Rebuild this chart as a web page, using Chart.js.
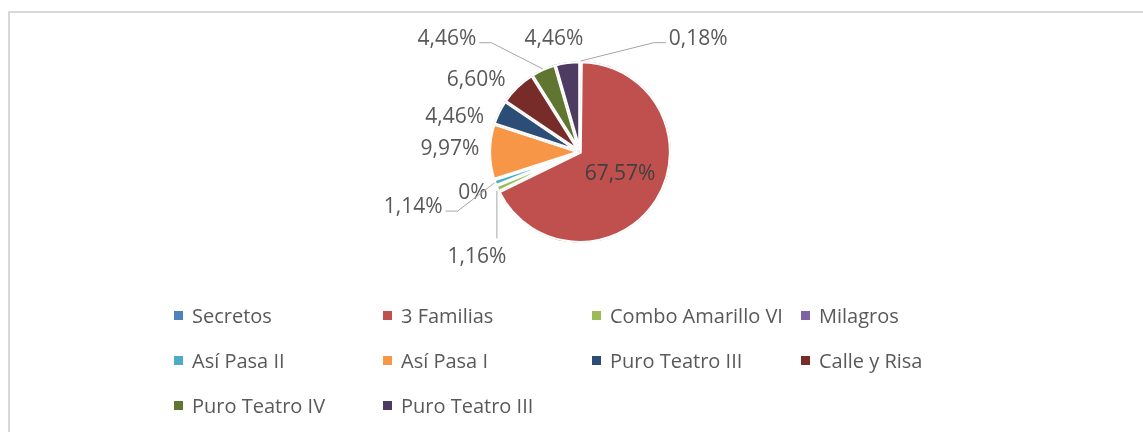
<!DOCTYPE html>
<html>
<head>
<meta charset="utf-8">
<script src="https://cdn.jsdelivr.net/npm/chart.js@4.4.1/dist/chart.umd.min.js"></script>
<style>
  html, body { margin: 0; padding: 0; background: #fff; }
  #wrap { position: relative; width: 1143px; height: 432px; overflow: hidden; font-family: "Open Sans", sans-serif; }
  #frame { position: absolute; left: 8px; top: 11px; width: 1300px; height: 600px; border: 2px solid #d9d9d9; box-sizing: border-box; }
  #chart { position: absolute; left: 0; top: 0; }
  #legend { position: absolute; left: 174px; top: 293px; display: grid; grid-template-columns: repeat(4, 209px); }
  .item { display: flex; align-items: center; height: 45px; font-size: 20px; color: #595959; white-space: nowrap; }
  .box { width: 9px; height: 9px; margin-right: 9px; flex: none; }
</style>
</head>
<body>
<div id="wrap">
  <div id="frame"></div>
  <canvas id="chart" width="1143" height="432"></canvas>
  <div id="legend"></div>
</div>
<script>
"use strict";

const LABELS = ["Secretos", "3 Familias", "Combo Amarillo VI", "Milagros", "Así Pasa II",
                "Así Pasa I", "Puro Teatro III", "Calle y Risa", "Puro Teatro IV", "Puro Teatro III"];
const VALUES = [0.18, 67.57, 1.16, 0, 1.14, 9.97, 4.46, 6.60, 4.46, 4.46];
const COLORS = ["#4F81BD", "#C0504D", "#9BBB59", "#8064A2", "#4BACC6",
                "#F79646", "#2C4D75", "#772C2A", "#5F7530", "#4D3B62"];

// label placement: [distance in radii, angle shift from slice middle (deg), mode]
const LABEL_PLACE = [
  [1.80, 45.9, "side"],
  [0.50, -4, "inside"],
  [1.62, -21.6, "top"],
  [1.26, 1, "out"],
  [1.93, 1.6, "side"],
  [1.43, 1.1, "out"],
  [1.43, -10.6, "out"],
  [1.39, -11.1, "out"],
  [1.92, -25.5, "side"],
  [1.275, -5, "out"],
];

function pct(v) {
  return v === 0 ? "0%" : v.toFixed(2).replace(".", ",") + "%";
}

const sliceLabels = {
  id: "sliceLabels",
  afterDatasetsDraw(chart) {
    const ctx = chart.ctx;
    const meta = chart.getDatasetMeta(0);
    ctx.save();
    ctx.font = "21px 'Open Sans'";
    ctx.textAlign = "center";
    ctx.textBaseline = "middle";
    meta.data.forEach((arc, i) => {
      const p = arc.getProps(["x", "y", "startAngle", "endAngle", "outerRadius"], true);
      const mid = (p.startAngle + p.endAngle) / 2;
      const [dist, shift, mode] = LABEL_PLACE[i];
      const a = mid + shift * Math.PI / 180;
      const R = p.outerRadius;
      const lx = p.x + Math.cos(a) * R * dist;
      const ly = p.y + Math.sin(a) * R * dist;
      const text = pct(VALUES[i]);
      const w = ctx.measureText(text).width;
      const ax = p.x + Math.cos(mid) * R;
      const ay = p.y + Math.sin(mid) * R;
      ctx.strokeStyle = "#a6a6a6";
      ctx.lineWidth = 1;
      if (mode === "side") {
        const right = lx > ax;
        const edge = right ? lx - w / 2 - 3 : lx + w / 2 + 3;
        const elbow = right ? edge - 12 : edge + 12;
        const y = ly + 4;
        ctx.beginPath();
        ctx.moveTo(ax, ay);
        ctx.lineTo(elbow, y);
        ctx.lineTo(edge, y);
        ctx.stroke();
      } else if (mode === "top") {
        ctx.beginPath();
        ctx.moveTo(ax, ay + 2);
        ctx.lineTo(ax, ly - 19);
        ctx.stroke();
      }
      ctx.fillStyle = mode === "inside" ? "#404040" : "#595959";
      ctx.fillText(text, lx, ly);
    });
    ctx.restore();
  },
};

new Chart(document.getElementById("chart"), {
  type: "pie",
  data: {
    labels: LABELS,
    datasets: [{
      data: VALUES,
      backgroundColor: COLORS,
      borderColor: "#ffffff",
      borderWidth: 1.8,
      borderAlign: "inner",
      borderJoinStyle: "miter",
    }],
  },
  options: {
    responsive: false,
    animation: false,
    radius: 91,
    layout: { padding: { left: 489, right: 472, top: 61, bottom: 189 } },
    plugins: { legend: { display: false }, tooltip: { enabled: false } },
  },
  plugins: [sliceLabels],
});

const legend = document.getElementById("legend");
LABELS.forEach((name, i) => {
  const item = document.createElement("div");
  item.className = "item";
  item.innerHTML = `<span class="box" style="background:${COLORS[i]}"></span>${name}`;
  legend.appendChild(item);
});
</script>
</body>
</html>
